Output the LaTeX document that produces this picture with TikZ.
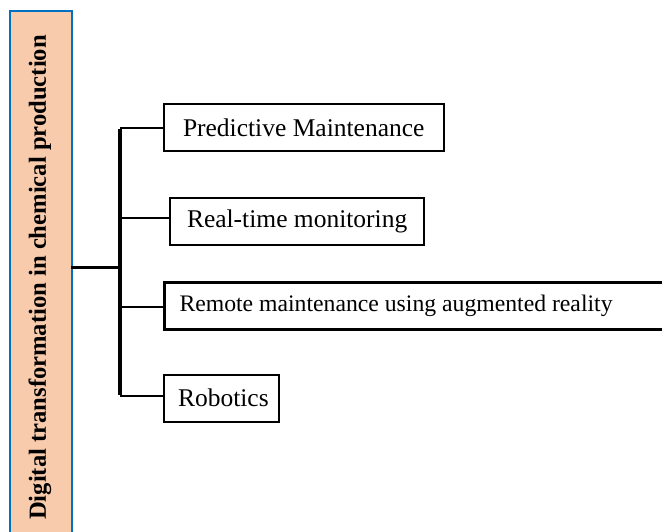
\documentclass[tikz,border=0pt]{standalone}
\usepackage{fontspec}
\setmainfont{Liberation Serif}
\definecolor{peach}{HTML}{F8CBAD}
\definecolor{edgeblue}{HTML}{0070C0}
\begin{document}
\begin{tikzpicture}[x=1pt,y=-1pt,
  item/.style={draw=black,line width=2pt,minimum height=47pt,inner ysep=0pt,align=flush left,anchor=west,font=\fontsize{25.5}{28}\selectfont},
  conn/.style={line width=2.4pt}]
\useasboundingbox (0,0) rectangle (662,532);
\fill[white] (0,0) rectangle (662,532);
\node[draw=edgeblue,fill=peach,line width=2pt,minimum width=62pt,minimum height=540pt,anchor=north west,inner sep=0pt] (root) at (9,10.5) {};
\node[rotate=90,font=\bfseries\fontsize{24.6}{28}\selectfont] (rtext) at (40,277.5) {Digital transformation in chemical production};
\node[item,inner xsep=19pt,text width=242pt] (a) at (163,127.5) {\mbox{Predictive Maintenance}};
\node[item,inner xsep=17pt,text width=220pt] (b) at (169,221.5) {\mbox{Real-time monitoring}};
\node[item,line width=3pt,inner xsep=15pt,text width=490pt,font=\fontsize{23.7}{28}\selectfont] (c) at (163,305.5) {\mbox{Remote maintenance using augmented reality}};
\node[item,inner xsep=14pt,text width=87pt] (d) at (163,398) {\mbox{Robotics}};
\coordinate (j) at (120,267.5);
\coordinate (ra) at (71,267.5);
\coordinate (t1) at (120,128);
\coordinate (t2) at (120,218);
\coordinate (t3) at (120,307);
\coordinate (t4) at (120,396);
\draw[conn] (ra) -- (j);
\draw[line width=3.2pt] ([yshift=-1.2pt]t1) -- ([yshift=1.2pt]t4);
\draw[conn] (t1) -- (t1 -| a.west);
\draw[conn] (t2) -- (t2 -| b.west);
\draw[conn] (t3) -- (t3 -| c.west);
\draw[conn] (t4) -- (t4 -| d.west);
\end{tikzpicture}
\end{document}
